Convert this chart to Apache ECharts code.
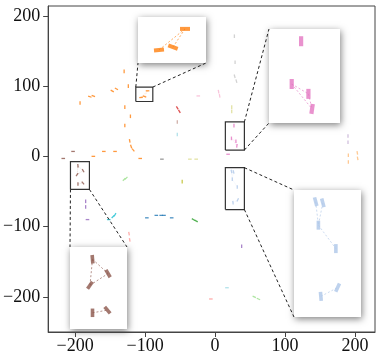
<!DOCTYPE html>
<html>
<head>
<meta charset="utf-8">
<script src="https://cdn.jsdelivr.net/npm/echarts@6/dist/echarts.min.js"></script>
<style>
  html, body { margin: 0; padding: 0; background: #fff; }
  #main { width: 382px; height: 359px; }
</style>
</head>
<body>
<div id="main"></div>
<script>
const xTicks = [-200, -100, 0, 100, 200];
const yTicks = [-200, -100, 0, 100, 200];

// each mark: [x, y, rotation in degrees]
const orangeMarks = [[-130, 121, 0], [-124, 100, 0], [-147, 93, 60], [-141, 96, 60], [-179, 85, 70], [-174, 86, 70],
  [-193, 76, 0], [-129, 70, 0], [-121, 57, 0], [-129, 44, 0], [-122, 22, 10], [-120, 14, 20], [-117, 9, 40],
  [-107, -3, 90], [-143, 7, 90], [-159, 7, 90], [-174, 0, 90]];
const lightOrangeMarks = [[190.5, 1.5, 0], [190.5, -8, 0], [203.3, 5, 10], [203.8, -3, 10]];
const lightPurpleMarks = [[190, 29, 0], [190, 20, 0]];
const brownMarks = [[-203, 7, 90], [-217, -3, 90]];
const lightGrayMarks = [[27.6, 171, 0], [28.6, 134, 0], [28, 114, 15], [30.5, 107, 15]];
const grayMarks = [[-76, -4, 90]];
const lightPinkMarks = [[-24, 86, 90], [5, 92, 10], [6.5, 86, 10]];
const pinkMarks = [[18.6, 3, 90]];
const lightOliveMarks = [[23.8, 70, 0], [23.8, 64, 0], [-36, -4, 90], [-27, -4, 90]];
const redMarks = [[-54, 69, 30], [-51, 64, 30]];
const lightBrownMarks = [[-54, 49, 0]];
const lightCyanMarks = [[-54, 31, 0], [17, -187, 90]];
const lightGreenMarks = [[-130, -33, -45], [-127, -31, -45], [56, -200, 65], [62, -203, 65]];
const greenMarks = [[-31, -90, 60], [-27, -92, 60]];
const oliveMarks = [[-47, -36, 0]];
const purpleMarks = [[-185, -64, 0], [-185, -72, 0], [-182.4, -90, 90], [38, -128, 0]];
const cyanMarks = [[-152, -90, 90], [-146, -86, -45], [-143, -83, -30]];
const blueMarks = [[-97.5, -87.5, 90], [-84, -84, 90], [-77, -84, 90], [-73, -84, 90], [-62, -87.5, 90]];
const lightRedMarks = [[-123, -110, 10], [-122, -119, 10], [-6, -203, 90]];

// zoomed groups: box = [xmin, xmax, ymin, ymax]
const orangeBox = [-113.3, -89, 78.1, 98.6];
const orangeZoomMarks = [[-105.8, 83.9, 95], [-100.8, 85.2, 70], [-96.5, 93.3, 90]];
const orangeZoomLinks = [[0, 2], [1, 2]];

const pinkBox = [14.7, 41.9, 9, 49];
const pinkZoomMarks = [[27, 43.8, 0], [23.4, 25.6, 0], [29.8, 21.4, 0], [31.2, 15, -8]];
const pinkZoomLinks = [[1, 2], [1, 3], [2, 3]];

const brownBox = [-206.7, -179.6, -47.1, -7.6];
const brownZoomMarks = [[-196, -13.5, 5], [-188.6, -20.4, 30], [-197.2, -26, -35], [-196, -39.3, 0], [-188.9, -38, 40]];
const brownZoomLinks = [[0, 1], [0, 2], [2, 1], [3, 4]];

const blueBox = [14.7, 41.9, -75.7, -16.1];
const blueZoomMarks = [[23.5, -21.6, 15], [26.4, -22.1, 15], [24.6, -32.6, 0], [31.7, -43.6, 0], [25.6, -66, 5], [32.4, -61.9, -25]];
const blueZoomLinks = [[0, 2], [1, 2], [2, 3], [4, 5]];

const tracks = [
  { color: '#ff7f0e', marks: orangeMarks },
  { color: '#ffbb78', marks: lightOrangeMarks },
  { color: '#c5b0d5', marks: lightPurpleMarks },
  { color: '#8c564b', marks: brownMarks },
  { color: '#c7c7c7', marks: lightGrayMarks },
  { color: '#7f7f7f', marks: grayMarks },
  { color: '#f7b6d2', marks: lightPinkMarks },
  { color: '#e377c2', marks: pinkMarks },
  { color: '#dbdb8d', marks: lightOliveMarks },
  { color: '#d62728', marks: redMarks },
  { color: '#c49c94', marks: lightBrownMarks },
  { color: '#9edae5', marks: lightCyanMarks },
  { color: '#98df8a', marks: lightGreenMarks },
  { color: '#2ca02c', marks: greenMarks },
  { color: '#bcbd22', marks: oliveMarks },
  { color: '#9467bd', marks: purpleMarks },
  { color: '#17becf', marks: cyanMarks },
  { color: '#1f77b4', marks: blueMarks },
  { color: '#ff9896', marks: lightRedMarks }
];

// inset layout: rect = [left, top, width, height] in px, conn = box corner -> inset corner
const insets = [
  { color: '#ff7f0e', marks: orangeZoomMarks, links: orangeZoomLinks, box: orangeBox,
    rect: [138, 17, 68, 46], size: [4, 10], conn: [['tl', 'bl'], ['tr', 'br']] },
  { color: '#e377c2', marks: pinkZoomMarks, links: pinkZoomLinks, box: pinkBox,
    rect: [269, 29, 71, 94], size: [4.2, 10], conn: [['tr', 'tl'], ['br', 'bl']] },
  { color: '#8c564b', marks: brownZoomMarks, links: brownZoomLinks, box: brownBox,
    rect: [70, 247, 57, 82], size: [3.6, 8.5], conn: [['bl', 'tl'], ['br', 'tr']] },
  { color: '#aec7e8', marks: blueZoomMarks, links: blueZoomLinks, box: blueBox,
    rect: [294, 190, 67, 127], size: [3.6, 9], conn: [['tr', 'tl'], ['br', 'bl']] }
];

const fmt = v => (v < 0 ? '\u2212' + (-v) : String(v));
const labelFont = { fontFamily: "'Liberation Serif', 'Times New Roman', serif", fontSize: 18, color: '#111' };

function markData(marks) {
  return marks.map(m => ({ value: [m[0], m[1]], symbolRotate: m[2] }));
}
function linkData(marks, links) {
  return links.map(l => ({ coords: [[marks[l[0]][0], marks[l[0]][1]], [marks[l[1]][0], marks[l[1]][1]]] }));
}

const chart = echarts.init(document.getElementById('main'));

const grids = [{ left: 48, top: 6, right: 7, bottom: 27, show: true, borderColor: '#444', borderWidth: 1 }];
const xAxes = [{
  type: 'value', min: -238.6, max: 228.6, gridIndex: 0,
  axisLine: { show: true, onZero: false, lineStyle: { color: '#444' } },
  axisTick: { show: true, length: 5, customValues: xTicks, lineStyle: { color: '#444' } },
  axisLabel: { customValues: xTicks, formatter: fmt, margin: 5, ...labelFont },
  splitLine: { show: false }
}];
const yAxes = [{
  type: 'value', min: -250, max: 214, gridIndex: 0,
  axisLine: { show: true, onZero: false, lineStyle: { color: '#444' } },
  axisTick: { show: true, length: 5, customValues: yTicks, lineStyle: { color: '#444' } },
  axisLabel: { customValues: yTicks, formatter: fmt, margin: 8, ...labelFont },
  splitLine: { show: false }
}];
const series = [];

tracks.forEach(t => {
  series.push({
    type: 'scatter', xAxisIndex: 0, yAxisIndex: 0, symbol: 'rect', symbolSize: [1.3, 3.6],
    itemStyle: { color: t.color }, data: markData(t.marks), silent: true
  });
});

insets.forEach((ins, i) => {
  const gi = i + 1;
  const [x0, x1, y0, y1] = ins.box;
  // marks in main view
  series.push({
    type: 'lines', coordinateSystem: 'cartesian2d', xAxisIndex: 0, yAxisIndex: 0,
    lineStyle: { color: ins.color, width: 0.4, type: 'dashed', opacity: 0.35 },
    data: linkData(ins.marks, ins.links), silent: true
  });
  series.push({
    type: 'scatter', xAxisIndex: 0, yAxisIndex: 0, symbol: 'rect', symbolSize: [1.3, 3.6],
    itemStyle: { color: ins.color }, data: markData(ins.marks), silent: true
  });
  // zoom box
  series.push({
    type: 'lines', coordinateSystem: 'cartesian2d', xAxisIndex: 0, yAxisIndex: 0, polyline: true,
    lineStyle: { color: '#333', width: 1.2, opacity: 1 },
    data: [{ coords: [[x0, y0], [x1, y0], [x1, y1], [x0, y1], [x0, y0]] }], silent: true, z: 5
  });
  // inset panel
  const [l, t, w, h] = ins.rect;
  grids.push({
    left: l, top: t, width: w, height: h, show: true, backgroundColor: '#fff', borderWidth: 0,
    shadowBlur: 7, shadowColor: 'rgba(0,0,0,0.5)', shadowOffsetX: 1, shadowOffsetY: 2
  });
  xAxes.push({ type: 'value', gridIndex: gi, min: x0, max: x1, show: false });
  yAxes.push({ type: 'value', gridIndex: gi, min: y0, max: y1, show: false });
  series.push({
    type: 'lines', coordinateSystem: 'cartesian2d', xAxisIndex: gi, yAxisIndex: gi,
    lineStyle: { color: ins.color, width: 0.8, type: [2, 2], opacity: 0.8 },
    data: linkData(ins.marks, ins.links), silent: true, z: 10
  });
  series.push({
    type: 'scatter', xAxisIndex: gi, yAxisIndex: gi, symbol: 'rect', symbolSize: ins.size,
    itemStyle: { color: ins.color }, data: markData(ins.marks), silent: true, z: 11
  });
});

chart.setOption({
  animation: false,
  backgroundColor: '#fff',
  grid: grids,
  xAxis: xAxes,
  yAxis: yAxes,
  series: series
});

// dashed connectors between zoom boxes and inset panels
const graphics = [];
insets.forEach(ins => {
  const [x0, x1, y0, y1] = ins.box;
  const boxPt = { tl: [x0, y1], tr: [x1, y1], bl: [x0, y0], br: [x1, y0] };
  const [l, t, w, h] = ins.rect;
  const insPt = { tl: [l, t], tr: [l + w, t], bl: [l, t + h], br: [l + w, t + h] };
  ins.conn.forEach(([a, b]) => {
    const p = chart.convertToPixel({ gridIndex: 0 }, boxPt[a]);
    graphics.push({
      type: 'line', silent: true, z: 50,
      shape: { x1: p[0], y1: p[1], x2: insPt[b][0], y2: insPt[b][1] },
      style: { stroke: '#222', lineWidth: 1, lineDash: [3, 2.5] }
    });
  });
});
chart.setOption({ graphic: graphics });
</script>
</body>
</html>
